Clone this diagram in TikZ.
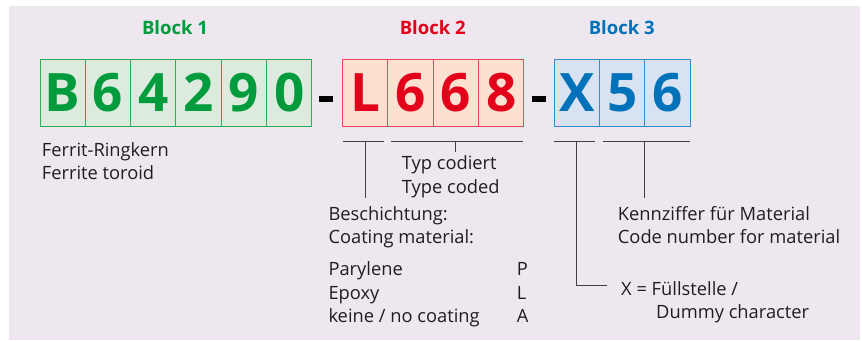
\documentclass[tikz,border=0pt]{standalone}
\usepackage{fontspec}
\setmainfont{Open Sans}
\definecolor{bgc}{RGB}{238,231,240}
\definecolor{gtxt}{RGB}{0,155,60}
\definecolor{gfill}{RGB}{221,235,222}
\definecolor{gline}{RGB}{45,172,80}
\definecolor{rtxt}{RGB}{226,0,26}
\definecolor{rfill}{RGB}{252,224,208}
\definecolor{rline}{RGB}{232,72,92}
\definecolor{btxt}{RGB}{0,114,186}
\definecolor{bfill}{RGB}{216,226,242}
\definecolor{bline}{RGB}{50,140,205}
\definecolor{ink}{RGB}{30,30,30}
\begin{document}
\begin{tikzpicture}[x=1pt,y=-1pt,
  cellbox/.style={draw, line width=1pt, minimum width=45.3pt, minimum height=67pt,
    inner sep=0pt, text height=37.7pt, text depth=0pt,
    font=\fontsize{53}{53}\selectfont\bfseries},
  gcell/.style={cellbox, fill=gfill, draw=gline, text=gtxt},
  rcell/.style={cellbox, fill=rfill, draw=rline, text=rtxt},
  bcell/.style={cellbox, fill=bfill, draw=bline, text=btxt},
  blocklabel/.style={font=\fontsize{18.5}{18.5}\selectfont\bfseries, anchor=base},
  dashbox/.style={fill=black, minimum width=14pt, minimum height=6pt, inner sep=0pt},
  lbl/.style={font=\fontsize{18.3}{23.5}\selectfont, text=ink, anchor=base west, inner sep=0pt},
  brk/.style={draw=ink!85, line width=1pt}
]
\useasboundingbox (0,0) rectangle (862,340);
\fill[bgc] (9,6) rectangle (860,340);

% block labels
\node[blocklabel, text=gtxt] (bl1) at (175,34.5) {Block 1};
\node[blocklabel, text=rtxt] (bl2) at (432.7,34.5) {Block 2};
\node[blocklabel, text=btxt] (bl3) at (621.7,34.5) {Block 3};

% block 1
\node[gcell] (g1) at (62.65,92.5) {B};
\node[gcell] (g2) at (107.95,92.5) {6};
\node[gcell] (g3) at (153.25,92.5) {4};
\node[gcell] (g4) at (198.55,92.5) {2};
\node[gcell] (g5) at (243.85,92.5) {9};
\node[gcell] (g6) at (289.15,92.5) {0};

\node[dashbox] (d1) at (326,98.5) {};

% block 2
\node[rcell] (r1) at (365.25,92.5) {L};
\node[rcell] (r2) at (410.55,92.5) {6};
\node[rcell] (r3) at (455.85,92.5) {6};
\node[rcell] (r4) at (501.15,92.5) {8};

\node[dashbox] (d2) at (538.8,98.5) {};

% block 3
\node[bcell] (x1) at (576.9,92.5) {X};
\node[bcell] (x2) at (622.2,92.5) {5};
\node[bcell] (x3) at (667.5,92.5) {6};

% texts
\node[lbl] (ferrit1) at (41.7,156) {Ferrit-Ringkern};
\node[lbl] (ferrit2) at (41.7,179.3) {Ferrite toroid};
\node[lbl] (typ1) at (401.7,169.5) {Typ codiert};
\node[lbl] (typ2) at (401.7,193.3) {Type coded};
\node[lbl] (besch1) at (328.3,220) {Beschichtung:};
\node[lbl] (besch2) at (328.3,243.3) {Coating material:};
\node[lbl] (coat1) at (328.3,275.7) {Parylene};
\node[lbl] (coat2) at (328.3,299.5) {Epoxy};
\node[lbl] (coat3) at (328.3,322.7) {keine / no coating};
\node[lbl] (code1) at (516.7,275.7) {P};
\node[lbl] (code2) at (516.7,299.5) {L};
\node[lbl] (code3) at (516.7,322.7) {A};
\node[lbl] (kenn1) at (617.7,220) {Kennziffer für Material};
\node[lbl] (kenn2) at (617.7,243.3) {Code number for material};
\node[lbl] (fuell) at (621,295) {X = Füllstelle /};
\node[lbl] (dummy) at (656,318.3) {Dummy character};

% brackets
\coordinate (c1) at (365,141.7);
\coordinate (c1e) at (365,198.3);
\draw[brk] (342.7,141.7) -- (384.3,141.7);
\draw[brk] (c1) -- (c1e);

\coordinate (c2) at (455.7,141.7);
\coordinate (c2e) at (455.7,151.7);
\draw[brk] (390.7,141.7) -- (523.3,141.7);
\draw[brk] (c2) -- (c2e);

\coordinate (c3) at (576.7,141.7);
\coordinate (c3k) at (576.7,285.7);
\coordinate (c3e) at (606.7,285.7);
\draw[brk] (554.3,141.7) -- (595,141.7);
\draw[brk] (c3) -- (c3k) -- (c3e);

\coordinate (c4) at (644.3,141.7);
\coordinate (c4e) at (644.3,198.3);
\draw[brk] (603.3,141.7) -- (690,141.7);
\draw[brk] (c4) -- (c4e);
\end{tikzpicture}
\end{document}
